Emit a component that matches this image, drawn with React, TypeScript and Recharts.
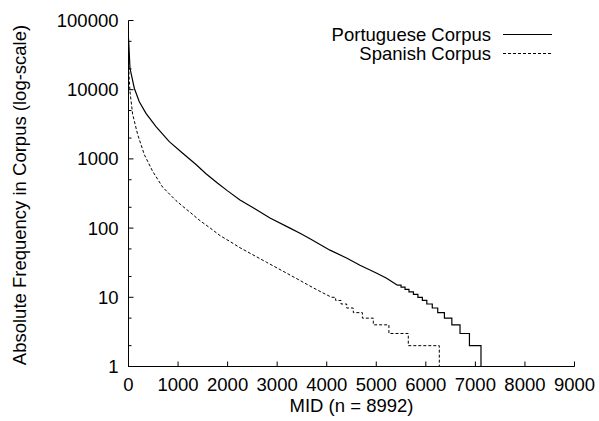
import React from 'react';
import { LineChart, Line, XAxis, YAxis, Legend } from 'recharts';

// ---- data ----
const seriesNames = ['Portuguese Corpus', 'Spanish Corpus'];

const portugueseMid = [1, 30, 117, 218, 353, 555, 823, 1094, 1362, 1564, 1800, 2000, 2250, 2550, 2855, 3259, 3461, 3663, 4066, 4400, 4671, 5000, 5200, 5420];
const portugueseFreq = [55000, 20400, 10500, 6700, 4560, 2920, 1774, 1205, 830, 610, 445, 345, 255, 190, 140, 100, 84, 70, 48, 37, 29, 22.5, 19, 15];
const portugueseStepMid = [5420, 5500, 5580, 5660, 5750, 5840, 5930, 6020, 6130, 6240, 6375, 6525, 6690, 6880, 7113, 8992];
const portugueseStepFreq = [15, 14, 13, 12, 11, 10, 9, 8, 7, 6, 5, 4, 3, 2, 1, 1];

const spanishMid = [1, 10, 30, 84, 185, 320, 488, 690, 958, 1100, 1261, 1443, 1650, 1846, 2048, 2250, 2500, 2788, 3000, 3259, 3461, 3729, 3900, 4100];
const spanishFreq = [42000, 16000, 9400, 4400, 2250, 1150, 660, 390, 250, 205, 165, 128, 100, 78, 64, 52, 41.5, 32, 26.5, 21, 17.5, 13.7, 11.8, 10];
const spanishStepMid = [4100, 4180, 4290, 4403, 4536, 4720, 4940, 5255, 5646, 6272, 8992];
const spanishStepFreq = [10, 9, 8, 7, 6, 5, 4, 3, 2, 1, 1];

const xTicks = [0, 1000, 2000, 3000, 4000, 5000, 6000, 7000, 8000, 9000];
const yMajorTicks = [1, 10, 100, 1000, 10000, 100000];
const yAllTicks = [1, 2, 5, 10, 20, 50, 100, 200, 500, 1000, 2000, 5000, 10000, 20000, 50000, 100000];

const xLabel = 'MID (n = 8992)';
const yLabel = 'Absolute Frequency in Corpus (log-scale)';

const zip = (m: number[], f: number[]) => m.map((mid, i) => ({ mid, v: f[i] }));
const ptData = zip(portugueseMid, portugueseFreq);
const ptStep = zip(portugueseStepMid, portugueseStepFreq);
const esData = zip(spanishMid, spanishFreq);
const esStep = zip(spanishStepMid, spanishStepFreq);

const FONT = '"Liberation Sans", Arial, Helvetica, sans-serif';
const FS = 18.5;
const MAJOR = 5;
const MINOR = 3;

const LeftTick = (p: any) => {
  const { x, y, payload } = p;
  const major = yMajorTicks.includes(payload.value);
  return (
    <g>
      <line x1={x} x2={x + (major ? MAJOR : MINOR)} y1={y} y2={y} stroke="#000" strokeWidth={1} />
      {major && (
        <text x={x - 10} y={y + 6.5} textAnchor="end" fontFamily={FONT} fontSize={FS} fill="#000">
          {payload.value}
        </text>
      )}
    </g>
  );
};

const RightTick = (p: any) => {
  const { x, y, payload } = p;
  const major = yMajorTicks.includes(payload.value);
  return <line x1={x} x2={x - (major ? MAJOR : MINOR)} y1={y} y2={y} stroke="#000" strokeWidth={1} />;
};

const BottomTick = (p: any) => {
  const { x, y, payload } = p;
  return (
    <g>
      <line x1={x} x2={x} y1={y} y2={y - MAJOR} stroke="#000" strokeWidth={1} />
      <text x={x} y={y + 24} textAnchor="middle" fontFamily={FONT} fontSize={FS} fill="#000">
        {payload.value}
      </text>
    </g>
  );
};

const TopTick = (p: any) => {
  const { x, y } = p;
  return <line x1={x} x2={x} y1={y} y2={y + MAJOR} stroke="#000" strokeWidth={1} />;
};

const XLabelContent = (p: any) => {
  const vb = p.viewBox;
  return (
    <text x={vb.x + vb.width / 2} y={vb.y + 45} textAnchor="middle" fontFamily={FONT} fontSize={FS} fill="#000">
      {xLabel}
    </text>
  );
};

const YLabelContent = (p: any) => {
  const vb = p.viewBox;
  const cx = 26;
  const cy = vb.y + vb.height / 2 + 1.5;
  return (
    <text x={cx} y={cy} transform={`rotate(-90, ${cx}, ${cy})`} textAnchor="middle" fontFamily={FONT} fontSize={FS} fill="#000">
      {yLabel}
    </text>
  );
};

const LegendContent = () => (
  <svg width={599} height={70} style={{ display: 'block' }}>
    <text x={491} y={40.5} textAnchor="end" fontFamily={FONT} fontSize={FS} fill="#000">{seriesNames[0]}</text>
    <line x1={503} x2={552} y1={34.5} y2={34.5} stroke="#000" strokeWidth={1.2} />
    <text x={491} y={59.5} textAnchor="end" fontFamily={FONT} fontSize={FS} fill="#000">{seriesNames[1]}</text>
    <line x1={503} x2={552} y1={53.5} y2={53.5} stroke="#000" strokeWidth={1} strokeDasharray="3 2" />
  </svg>
);

export default function App() {
  return (
    <div style={{ position: 'absolute', left: 0, top: 0, width: 599, height: 421, background: '#fff' }}>
      <LineChart width={599} height={421} margin={{ top: 20.5, right: 24.5, bottom: 0, left: 0 }}>
        <XAxis
          xAxisId="b"
          dataKey="mid"
          type="number"
          domain={[0, 9000]}
          ticks={xTicks}
          interval={0}
          height={54.5}
          tickSize={0}
          tickMargin={0}
          tickLine={false}
          tick={BottomTick}
          axisLine={{ stroke: '#000', strokeWidth: 1 }}
          allowDataOverflow
          label={{ content: XLabelContent }}
        />
        <XAxis
          xAxisId="t"
          orientation="top"
          dataKey="mid"
          type="number"
          domain={[0, 9000]}
          ticks={xTicks}
          interval={0}
          height={0}
          tickSize={0}
          tickMargin={0}
          tickLine={false}
          tick={TopTick}
          axisLine={{ stroke: '#000', strokeWidth: 1 }}
          allowDataOverflow
        />
        <YAxis
          yAxisId="l"
          scale="log"
          type="number"
          domain={[1, 100000]}
          ticks={yAllTicks}
          interval={0}
          width={128.5}
          tickSize={0}
          tickMargin={0}
          tickLine={false}
          tick={LeftTick}
          axisLine={{ stroke: '#000', strokeWidth: 1 }}
          allowDataOverflow
          label={{ content: YLabelContent }}
        />
        <YAxis
          yAxisId="r"
          orientation="right"
          scale="log"
          type="number"
          domain={[1, 100000]}
          ticks={yAllTicks}
          interval={0}
          width={0}
          tickSize={0}
          tickMargin={0}
          tickLine={false}
          tick={RightTick}
          axisLine={{ stroke: '#000', strokeWidth: 1 }}
          allowDataOverflow
        />
        <Legend
          layout="vertical"
          align="center"
          verticalAlign="middle"
          content={LegendContent}
          wrapperStyle={{ position: 'absolute', left: 0, top: 0, width: 599, height: 70 }}
        />
        <Line xAxisId="b" yAxisId="l" data={ptData} dataKey="v" name={seriesNames[0]} type="linear" stroke="#000" strokeWidth={1.2} dot={false} activeDot={false} isAnimationActive={false} />
        <Line xAxisId="b" yAxisId="l" data={ptStep} dataKey="v" name={seriesNames[0] + ' tail'} type="stepAfter" stroke="#000" strokeWidth={1.2} dot={false} activeDot={false} isAnimationActive={false} legendType="none" />
        <Line xAxisId="b" yAxisId="l" data={esData} dataKey="v" name={seriesNames[1]} type="linear" stroke="#000" strokeWidth={1} strokeDasharray="3 2" dot={false} activeDot={false} isAnimationActive={false} />
        <Line xAxisId="b" yAxisId="l" data={esStep} dataKey="v" name={seriesNames[1] + ' tail'} type="stepAfter" stroke="#000" strokeWidth={1} strokeDasharray="3 2" dot={false} activeDot={false} isAnimationActive={false} legendType="none" />
      </LineChart>
    </div>
  );
}
